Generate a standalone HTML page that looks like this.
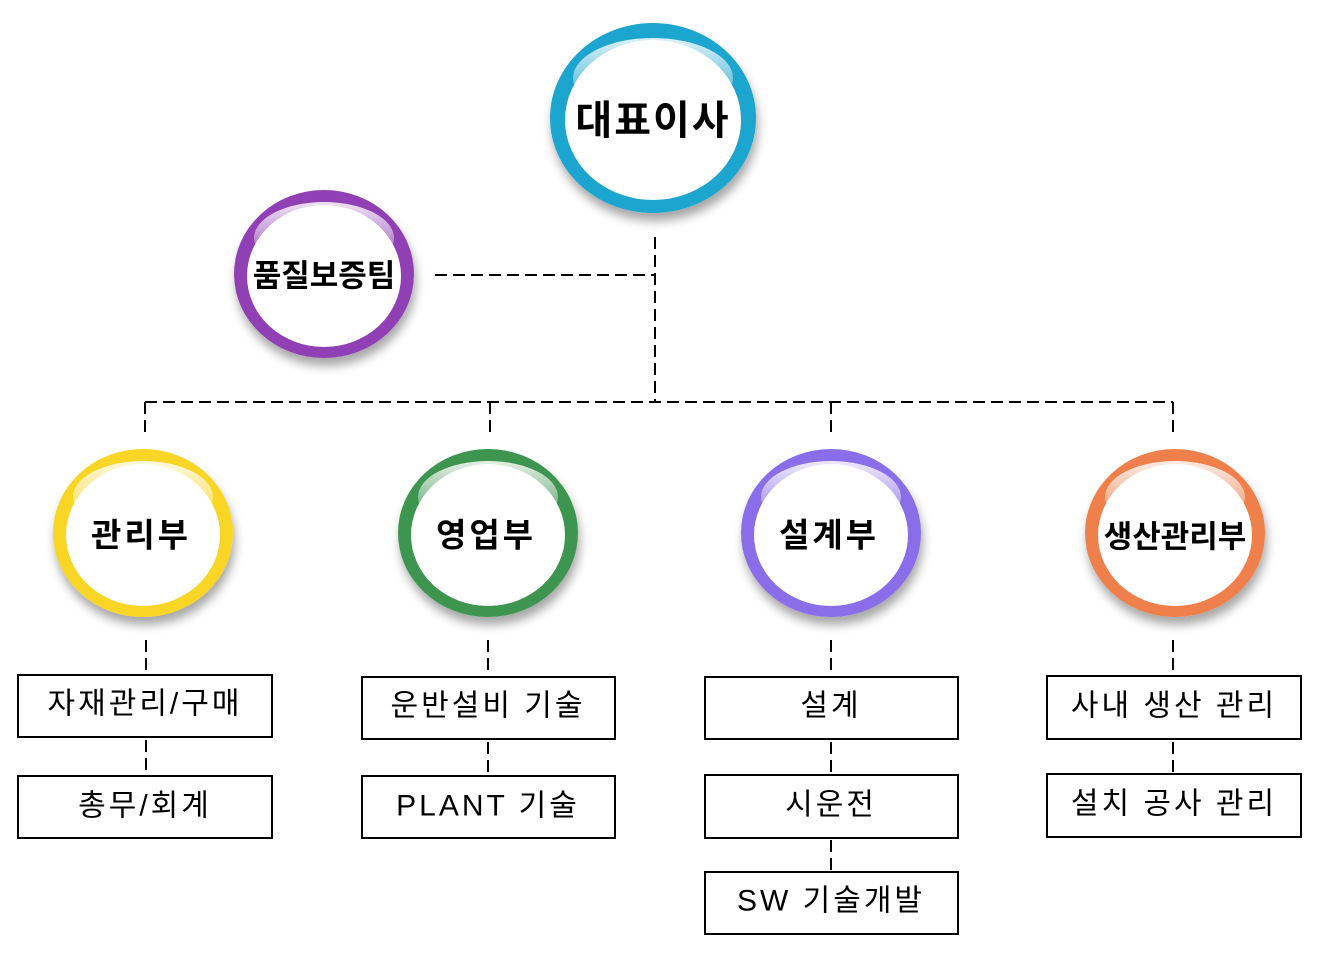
<!DOCTYPE html>
<html><head><meta charset="utf-8"><style>
html,body{margin:0;padding:0;background:#fff;}
svg{display:block;}
text{font-family:"Liberation Sans","Noto Sans CJK KR",sans-serif;}
.c{font-weight:bold;fill:#000;text-anchor:middle;dominant-baseline:central;}
.b{font-size:30px;fill:#000;text-anchor:middle;dominant-baseline:central;letter-spacing:3px;}
.box{fill:#fff;stroke:#000;stroke-width:2;}
.d{stroke:#000;stroke-width:2;stroke-dasharray:12 6;fill:none;}
</style></head><body>
<svg width="1323" height="956" viewBox="0 0 1323 956">
<defs>
<filter id="sh" x="-20%" y="-20%" width="140%" height="150%"><feGaussianBlur in="SourceAlpha" stdDeviation="5"/><feOffset dx="2" dy="8"/><feComponentTransfer><feFuncA type="linear" slope="0.35"/></feComponentTransfer><feMerge><feMergeNode/><feMergeNode in="SourceGraphic"/></feMerge></filter>
<linearGradient id="gl" x1="0" y1="0" x2="0" y2="1"><stop offset="0" stop-color="#fff" stop-opacity="0.85"/><stop offset="1" stop-color="#fff" stop-opacity="0"/></linearGradient>
</defs>
<path class="d" d="M655 237 V402"/>
<path class="d" d="M435 275 H655"/>
<path class="d" d="M145 402 H1173"/>
<path class="d" d="M145 402 V432 M490 402 V432 M831 402 V432 M1173 402 V432"/>
<path class="d" d="M146 640 V672 M146 740 V774"/>
<path class="d" d="M488 640 V672 M488 742 V774"/>
<path class="d" d="M831 640 V672 M831 742 V774 M831 840 V870"/>
<path class="d" d="M1173 640 V672 M1173 742 V772"/>
<g filter="url(#sh)">
<ellipse cx="653" cy="118" rx="103" ry="95" fill="#1ea5cf"/>
<ellipse cx="324" cy="274" rx="90" ry="84" fill="#9040b4"/>
<ellipse cx="143" cy="533" rx="90" ry="84" fill="#f9d528"/>
<ellipse cx="488" cy="533" rx="90" ry="84" fill="#3c9550"/>
<ellipse cx="831" cy="533" rx="90" ry="84" fill="#8a6de8"/>
<ellipse cx="1175" cy="533" rx="90" ry="84" fill="#ef804c"/>
</g>
<ellipse cx="653" cy="120" rx="88" ry="80" fill="#fff"/>
<ellipse cx="324" cy="276" rx="77" ry="71" fill="#fff"/>
<ellipse cx="143" cy="535" rx="77" ry="71" fill="#fff"/>
<ellipse cx="488" cy="535" rx="77" ry="71" fill="#fff"/>
<ellipse cx="831" cy="535" rx="77" ry="71" fill="#fff"/>
<ellipse cx="1175" cy="535" rx="77" ry="71" fill="#fff"/>
<ellipse cx="653" cy="78" rx="80" ry="40" fill="url(#gl)"/>
<ellipse cx="324" cy="238" rx="70" ry="36" fill="url(#gl)"/>
<ellipse cx="143" cy="497" rx="70" ry="36" fill="url(#gl)"/>
<ellipse cx="488" cy="497" rx="70" ry="36" fill="url(#gl)"/>
<ellipse cx="831" cy="497" rx="70" ry="36" fill="url(#gl)"/>
<ellipse cx="1175" cy="497" rx="70" ry="36" fill="url(#gl)"/>
<text class="c" x="653" y="121" font-size="40" letter-spacing="2">대표이사</text>
<text class="c" x="324" y="276" font-size="31">품질보증팀</text>
<text class="c" x="141" y="535" font-size="33" letter-spacing="3">관리부</text>
<text class="c" x="486" y="535" font-size="33" letter-spacing="3">영업부</text>
<text class="c" x="829" y="535" font-size="33" letter-spacing="3">설계부</text>
<text class="c" x="1175" y="537" font-size="31">생산관리부</text>
<rect class="box" x="18" y="675" width="254" height="62"/><text class="b" x="145" y="704">자재관리/구매</text>
<rect class="box" x="18" y="776" width="254" height="62"/><text class="b" x="145" y="806">총무/회계</text>
<rect class="box" x="362" y="677" width="253" height="62"/><text class="b" x="488" y="706">운반설비 기술</text>
<rect class="box" x="362" y="776" width="253" height="62"/><text class="b" x="488" y="806">PLANT 기술</text>
<rect class="box" x="705" y="677" width="253" height="62"/><text class="b" x="831" y="706">설계</text>
<rect class="box" x="705" y="775" width="253" height="63"/><text class="b" x="831" y="805">시운전</text>
<rect class="box" x="705" y="872" width="253" height="62"/><text class="b" x="831" y="901">SW 기술개발</text>
<rect class="box" x="1047" y="676" width="254" height="63"/><text class="b" x="1174" y="706">사내 생산 관리</text>
<rect class="box" x="1047" y="774" width="254" height="63"/><text class="b" x="1174" y="804">설치 공사 관리</text>
</svg>
</body></html>
